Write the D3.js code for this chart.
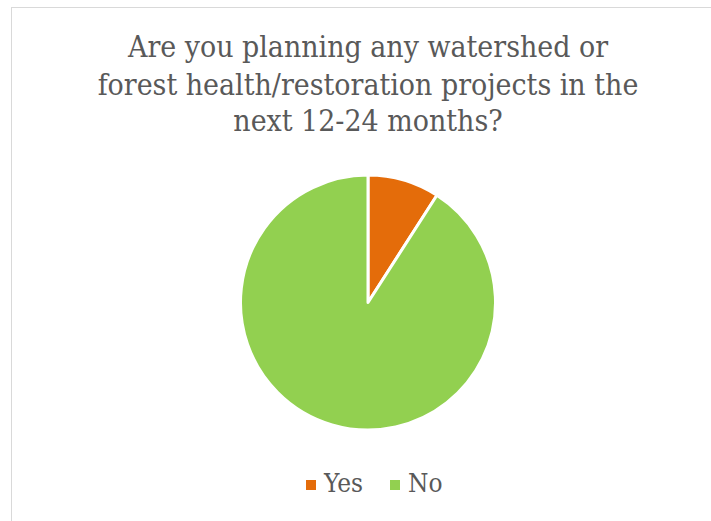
<!DOCTYPE html>
<html>
<head>
<meta charset="utf-8">
<script src="https://cdn.jsdelivr.net/npm/d3@7"></script>
<style>
  html, body { margin: 0; padding: 0; background: #fff; }
  svg { display: block; }
  text { font-stretch: condensed; }
</style>
</head>
<body>
<svg id="chart" width="711" height="521"></svg>
<script>
// Survey answers
const categories = ["Yes", "No"];
const values = [1, 10];
const colors = ["#e46c0a", "#92d050"];
const titleLines = [
  "Are you planning any watershed or",
  "forest health/restoration projects in the",
  "next 12-24 months?"
];

const svg = d3.select("#chart");
const fontFamily = "'DejaVu Serif Condensed', 'DejaVu Serif', serif";

// Chart frame
svg.append("rect")
  .attr("x", 11.5).attr("y", 7.5)
  .attr("width", 720).attr("height", 540)
  .attr("fill", "#fff")
  .attr("stroke", "#d9d9d9").attr("stroke-width", 1);

// Title, sized so the widest line spans its area
const title = svg.append("g");
const baselines = [57, 94.5, 131];
const tNodes = titleLines.map((t, i) => title.append("text")
  .attr("x", 368).attr("y", baselines[i])
  .attr("text-anchor", "middle")
  .attr("font-family", fontFamily)
  .attr("font-size", 30)
  .attr("fill", "#595959")
  .text(t));
const w2 = tNodes[1].node().getComputedTextLength();
const fs = 30 * 541 / w2;
tNodes.forEach(n => n.attr("font-size", fs));

// Pie
const cx = 368, cy = 302.5, r = 127.5;
const pie = d3.pie().sort(null).value(d => d)(values);
const arc = d3.arc().innerRadius(0).outerRadius(r);
const color = d3.scaleOrdinal().domain(categories).range(colors);

svg.append("g")
  .attr("transform", `translate(${cx},${cy})`)
  .selectAll("path")
  .data(pie)
  .join("path")
  .attr("d", arc)
  .attr("fill", (d, i) => color(categories[i]))
  .attr("stroke", "#fff")
  .attr("stroke-width", 3)
  .attr("stroke-linejoin", "round");

// Legend
const legend = svg.append("g");
const legendX = [306, 390];
const lNodes = categories.map((c, i) => {
  legend.append("rect")
    .attr("x", legendX[i]).attr("y", 480)
    .attr("width", 10).attr("height", 10)
    .attr("fill", color(c));
  return legend.append("text")
    .attr("x", legendX[i] + 18).attr("y", 492)
    .attr("font-family", fontFamily)
    .attr("font-size", 24)
    .attr("fill", "#595959")
    .text(c);
});
const wy = lNodes[0].node().getComputedTextLength();
lNodes.forEach(n => n.attr("font-size", 24 * 39 / wy));
</script>
</body>
</html>
